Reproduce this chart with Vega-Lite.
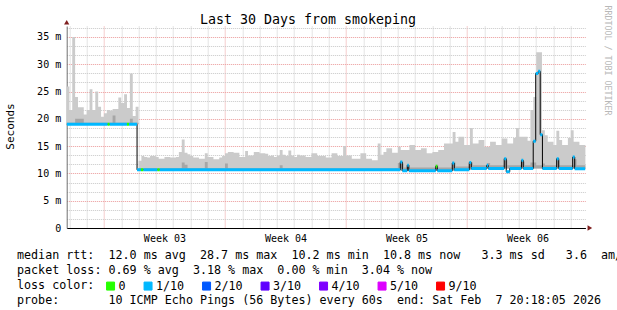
{
  "$schema": "https://vega.github.io/schema/vega-lite/v6.json",
  "width": 518.7,
  "height": 202,
  "autosize": {"type": "none"},
  "padding": {"left": 66.7, "top": 26, "right": 31.6, "bottom": 82},
  "background": "#ffffff",
  "config": {"view": {"stroke": null}},
  "title": {"text": "Last 30 Days from smokeping", "font": "DejaVu Sans Mono", "fontSize": 13.3, "fontWeight": "normal", "color": "#000000", "anchor": "middle", "frame": "group", "dx": -18, "dy": 34, "offset": 2, "baseline": "alphabetic"},
  "datasets": {
    "smoke": [
      {"t":"2026-01-08T20:00Z","lo":19,"dk":19.3,"hi":25.9},
      {"t":"2026-01-09T00:00Z","lo":19,"dk":19.3,"hi":21.6},
      {"t":"2026-01-09T04:00Z","lo":19,"dk":19.3,"hi":35.0},
      {"t":"2026-01-09T08:00Z","lo":19,"dk":20.0,"hi":24.0},
      {"t":"2026-01-09T12:00Z","lo":19,"dk":20.0,"hi":22.1},
      {"t":"2026-01-09T16:00Z","lo":19,"dk":20.0,"hi":22.1},
      {"t":"2026-01-09T20:00Z","lo":19,"dk":19.3,"hi":20.8},
      {"t":"2026-01-10T00:00Z","lo":19,"dk":19.3,"hi":21.6},
      {"t":"2026-01-10T04:00Z","lo":19,"dk":19.3,"hi":25.4},
      {"t":"2026-01-10T08:00Z","lo":19,"dk":19.3,"hi":21.6},
      {"t":"2026-01-10T12:00Z","lo":19,"dk":19.3,"hi":25.0},
      {"t":"2026-01-10T16:00Z","lo":19,"dk":19.3,"hi":22.2},
      {"t":"2026-01-10T20:00Z","lo":19,"dk":19.3,"hi":20.4},
      {"t":"2026-01-11T00:00Z","lo":19,"dk":19.3,"hi":21.0},
      {"t":"2026-01-11T04:00Z","lo":19,"dk":19.3,"hi":21.6},
      {"t":"2026-01-11T08:00Z","lo":19,"dk":19.3,"hi":21.5},
      {"t":"2026-01-11T12:00Z","lo":19,"dk":20.6,"hi":21.8},
      {"t":"2026-01-11T16:00Z","lo":19,"dk":19.3,"hi":21.8},
      {"t":"2026-01-11T20:00Z","lo":19,"dk":19.3,"hi":23.9},
      {"t":"2026-01-12T00:00Z","lo":19,"dk":19.3,"hi":22.9},
      {"t":"2026-01-12T04:00Z","lo":19,"dk":19.3,"hi":24.5},
      {"t":"2026-01-12T08:00Z","lo":19,"dk":19.3,"hi":22.0},
      {"t":"2026-01-12T12:00Z","lo":19,"dk":20.0,"hi":28.3},
      {"t":"2026-01-12T16:00Z","lo":19,"dk":19.3,"hi":20.5},
      {"t":"2026-01-12T20:00Z","lo":19,"dk":19.3,"hi":22.2},
      {"t":"2026-01-13T00:00Z","lo":10.65,"dk":10.95,"hi":12.3},
      {"t":"2026-01-13T04:00Z","lo":10.65,"dk":10.95,"hi":13.2},
      {"t":"2026-01-13T08:00Z","lo":10.65,"dk":10.95,"hi":13.0},
      {"t":"2026-01-13T12:00Z","lo":10.65,"dk":10.95,"hi":12.9},
      {"t":"2026-01-13T16:00Z","lo":10.65,"dk":10.95,"hi":13.2},
      {"t":"2026-01-13T20:00Z","lo":10.65,"dk":10.95,"hi":13.2},
      {"t":"2026-01-14T00:00Z","lo":10.65,"dk":10.95,"hi":13.0},
      {"t":"2026-01-14T04:00Z","lo":10.65,"dk":10.95,"hi":12.7},
      {"t":"2026-01-14T08:00Z","lo":10.65,"dk":10.95,"hi":12.7},
      {"t":"2026-01-14T12:00Z","lo":10.65,"dk":10.95,"hi":13.0},
      {"t":"2026-01-14T16:00Z","lo":10.65,"dk":10.95,"hi":13.0},
      {"t":"2026-01-14T20:00Z","lo":10.65,"dk":10.95,"hi":12.9},
      {"t":"2026-01-15T00:00Z","lo":10.65,"dk":10.95,"hi":12.9},
      {"t":"2026-01-15T04:00Z","lo":10.65,"dk":10.95,"hi":13.0},
      {"t":"2026-01-15T08:00Z","lo":10.65,"dk":10.95,"hi":13.9},
      {"t":"2026-01-15T12:00Z","lo":10.65,"dk":12.0,"hi":16.2},
      {"t":"2026-01-15T16:00Z","lo":10.65,"dk":11.6,"hi":13.8},
      {"t":"2026-01-15T20:00Z","lo":10.65,"dk":10.95,"hi":13.5},
      {"t":"2026-01-16T00:00Z","lo":10.65,"dk":10.95,"hi":13.2},
      {"t":"2026-01-16T04:00Z","lo":10.65,"dk":10.95,"hi":12.9},
      {"t":"2026-01-16T08:00Z","lo":10.65,"dk":10.95,"hi":12.9},
      {"t":"2026-01-16T12:00Z","lo":10.65,"dk":10.95,"hi":12.7},
      {"t":"2026-01-16T16:00Z","lo":10.65,"dk":10.95,"hi":12.7},
      {"t":"2026-01-16T20:00Z","lo":10.65,"dk":12.1,"hi":13.7},
      {"t":"2026-01-17T00:00Z","lo":10.65,"dk":10.95,"hi":13.0},
      {"t":"2026-01-17T04:00Z","lo":10.65,"dk":10.95,"hi":13.0},
      {"t":"2026-01-17T08:00Z","lo":10.65,"dk":10.95,"hi":12.6},
      {"t":"2026-01-17T12:00Z","lo":10.65,"dk":10.95,"hi":12.6},
      {"t":"2026-01-17T16:00Z","lo":10.65,"dk":10.95,"hi":12.9},
      {"t":"2026-01-17T20:00Z","lo":10.65,"dk":10.95,"hi":13.2},
      {"t":"2026-01-18T00:00Z","lo":10.65,"dk":11.8,"hi":13.7},
      {"t":"2026-01-18T04:00Z","lo":10.65,"dk":10.95,"hi":13.9},
      {"t":"2026-01-18T08:00Z","lo":10.65,"dk":10.95,"hi":13.9},
      {"t":"2026-01-18T12:00Z","lo":10.65,"dk":10.95,"hi":13.8},
      {"t":"2026-01-18T16:00Z","lo":10.65,"dk":10.95,"hi":13.8},
      {"t":"2026-01-18T20:00Z","lo":10.65,"dk":10.95,"hi":13.0},
      {"t":"2026-01-19T00:00Z","lo":10.65,"dk":10.95,"hi":13.0},
      {"t":"2026-01-19T04:00Z","lo":10.65,"dk":10.95,"hi":14.1},
      {"t":"2026-01-19T08:00Z","lo":10.65,"dk":10.95,"hi":13.3},
      {"t":"2026-01-19T12:00Z","lo":10.65,"dk":10.95,"hi":13.3},
      {"t":"2026-01-19T16:00Z","lo":10.65,"dk":10.95,"hi":13.9},
      {"t":"2026-01-19T20:00Z","lo":10.65,"dk":10.95,"hi":13.9},
      {"t":"2026-01-20T00:00Z","lo":10.65,"dk":10.95,"hi":13.7},
      {"t":"2026-01-20T04:00Z","lo":10.65,"dk":10.95,"hi":13.7},
      {"t":"2026-01-20T08:00Z","lo":10.65,"dk":10.95,"hi":13.6},
      {"t":"2026-01-20T12:00Z","lo":10.65,"dk":10.95,"hi":13.2},
      {"t":"2026-01-20T16:00Z","lo":10.65,"dk":10.95,"hi":13.3},
      {"t":"2026-01-20T20:00Z","lo":10.65,"dk":10.95,"hi":13.0},
      {"t":"2026-01-21T00:00Z","lo":10.65,"dk":10.95,"hi":13.3},
      {"t":"2026-01-21T04:00Z","lo":10.65,"dk":11.5,"hi":14.3},
      {"t":"2026-01-21T08:00Z","lo":10.65,"dk":10.95,"hi":13.4},
      {"t":"2026-01-21T12:00Z","lo":10.65,"dk":10.95,"hi":13.2},
      {"t":"2026-01-21T16:00Z","lo":10.65,"dk":10.95,"hi":14.2},
      {"t":"2026-01-21T20:00Z","lo":10.65,"dk":10.95,"hi":13.3},
      {"t":"2026-01-22T00:00Z","lo":10.65,"dk":10.95,"hi":13.0},
      {"t":"2026-01-22T04:00Z","lo":10.65,"dk":10.95,"hi":13.4},
      {"t":"2026-01-22T08:00Z","lo":10.65,"dk":10.95,"hi":13.3},
      {"t":"2026-01-22T12:00Z","lo":10.65,"dk":10.95,"hi":13.3},
      {"t":"2026-01-22T16:00Z","lo":10.65,"dk":10.95,"hi":13.0},
      {"t":"2026-01-22T20:00Z","lo":10.65,"dk":10.95,"hi":13.0},
      {"t":"2026-01-23T00:00Z","lo":10.65,"dk":10.95,"hi":13.7},
      {"t":"2026-01-23T04:00Z","lo":10.65,"dk":10.95,"hi":13.7},
      {"t":"2026-01-23T08:00Z","lo":10.65,"dk":10.95,"hi":13.2},
      {"t":"2026-01-23T12:00Z","lo":10.65,"dk":10.95,"hi":13.2},
      {"t":"2026-01-23T16:00Z","lo":10.65,"dk":10.95,"hi":13.2},
      {"t":"2026-01-23T20:00Z","lo":10.65,"dk":10.95,"hi":12.9},
      {"t":"2026-01-24T00:00Z","lo":10.65,"dk":10.95,"hi":12.9},
      {"t":"2026-01-24T04:00Z","lo":10.65,"dk":10.95,"hi":13.7},
      {"t":"2026-01-24T08:00Z","lo":10.65,"dk":10.95,"hi":13.7},
      {"t":"2026-01-24T12:00Z","lo":10.65,"dk":10.95,"hi":13.2},
      {"t":"2026-01-24T16:00Z","lo":10.65,"dk":10.95,"hi":13.2},
      {"t":"2026-01-24T20:00Z","lo":10.65,"dk":10.95,"hi":15.0},
      {"t":"2026-01-25T00:00Z","lo":10.65,"dk":10.95,"hi":13.3},
      {"t":"2026-01-25T04:00Z","lo":10.65,"dk":10.95,"hi":13.3},
      {"t":"2026-01-25T08:00Z","lo":10.65,"dk":10.95,"hi":12.7},
      {"t":"2026-01-25T12:00Z","lo":10.65,"dk":10.95,"hi":12.7},
      {"t":"2026-01-25T16:00Z","lo":10.65,"dk":10.95,"hi":12.7},
      {"t":"2026-01-25T20:00Z","lo":10.65,"dk":10.95,"hi":13.7},
      {"t":"2026-01-26T00:00Z","lo":10.65,"dk":10.95,"hi":13.7},
      {"t":"2026-01-26T04:00Z","lo":10.65,"dk":10.95,"hi":12.7},
      {"t":"2026-01-26T08:00Z","lo":10.65,"dk":10.95,"hi":12.7},
      {"t":"2026-01-26T12:00Z","lo":10.65,"dk":10.95,"hi":12.4},
      {"t":"2026-01-26T16:00Z","lo":10.65,"dk":10.95,"hi":12.4},
      {"t":"2026-01-26T20:00Z","lo":10.65,"dk":10.95,"hi":15.5},
      {"t":"2026-01-27T00:00Z","lo":10.65,"dk":10.95,"hi":13.4},
      {"t":"2026-01-27T04:00Z","lo":10.65,"dk":10.95,"hi":13.9},
      {"t":"2026-01-27T08:00Z","lo":10.65,"dk":10.95,"hi":14.6},
      {"t":"2026-01-27T12:00Z","lo":10.65,"dk":10.95,"hi":14.6},
      {"t":"2026-01-27T16:00Z","lo":10.65,"dk":10.95,"hi":13.8},
      {"t":"2026-01-27T20:00Z","lo":10.65,"dk":11.0,"hi":13.8},
      {"t":"2026-01-28T00:00Z","lo":10.65,"dk":11.9,"hi":14.9},
      {"t":"2026-01-28T04:00Z","lo":10.5,"dk":11.8,"hi":14.3},
      {"t":"2026-01-28T08:00Z","lo":10.5,"dk":11.1,"hi":14.3},
      {"t":"2026-01-28T12:00Z","lo":10.5,"dk":11.6,"hi":14.3},
      {"t":"2026-01-28T16:00Z","lo":10.5,"dk":11.1,"hi":15.2},
      {"t":"2026-01-28T20:00Z","lo":10.5,"dk":11.1,"hi":15.2},
      {"t":"2026-01-29T00:00Z","lo":10.5,"dk":11.1,"hi":14.3},
      {"t":"2026-01-29T04:00Z","lo":10.5,"dk":11.1,"hi":14.3},
      {"t":"2026-01-29T08:00Z","lo":10.5,"dk":11.1,"hi":14.6},
      {"t":"2026-01-29T12:00Z","lo":10.5,"dk":11.1,"hi":14.6},
      {"t":"2026-01-29T16:00Z","lo":10.5,"dk":11.1,"hi":13.7},
      {"t":"2026-01-29T20:00Z","lo":10.5,"dk":11.1,"hi":13.7},
      {"t":"2026-01-30T00:00Z","lo":10.5,"dk":11.1,"hi":13.9},
      {"t":"2026-01-30T04:00Z","lo":10.5,"dk":11.6,"hi":13.9},
      {"t":"2026-01-30T08:00Z","lo":10.5,"dk":11.1,"hi":14.3},
      {"t":"2026-01-30T12:00Z","lo":10.5,"dk":11.1,"hi":14.3},
      {"t":"2026-01-30T16:00Z","lo":10.5,"dk":11.1,"hi":15.5},
      {"t":"2026-01-30T20:00Z","lo":10.5,"dk":11.1,"hi":15.5},
      {"t":"2026-01-31T00:00Z","lo":10.5,"dk":11.1,"hi":15.5},
      {"t":"2026-01-31T04:00Z","lo":10.5,"dk":12.0,"hi":17.6},
      {"t":"2026-01-31T08:00Z","lo":10.65,"dk":11.25,"hi":15.8},
      {"t":"2026-01-31T12:00Z","lo":10.65,"dk":11.25,"hi":16.7},
      {"t":"2026-01-31T16:00Z","lo":10.65,"dk":11.25,"hi":16.7},
      {"t":"2026-01-31T20:00Z","lo":10.65,"dk":11.25,"hi":15.2},
      {"t":"2026-02-01T00:00Z","lo":10.65,"dk":11.25,"hi":15.2},
      {"t":"2026-02-01T04:00Z","lo":10.65,"dk":12.0,"hi":18.3},
      {"t":"2026-02-01T08:00Z","lo":10.9,"dk":11.5,"hi":15.5},
      {"t":"2026-02-01T12:00Z","lo":10.9,"dk":11.5,"hi":15.5},
      {"t":"2026-02-01T16:00Z","lo":10.9,"dk":11.5,"hi":16.1},
      {"t":"2026-02-01T20:00Z","lo":10.9,"dk":11.5,"hi":16.1},
      {"t":"2026-02-02T00:00Z","lo":10.9,"dk":11.5,"hi":14.9},
      {"t":"2026-02-02T04:00Z","lo":10.9,"dk":11.9,"hi":14.9},
      {"t":"2026-02-02T08:00Z","lo":10.9,"dk":11.5,"hi":15.8},
      {"t":"2026-02-02T12:00Z","lo":10.9,"dk":11.5,"hi":15.8},
      {"t":"2026-02-02T16:00Z","lo":10.9,"dk":11.5,"hi":15.2},
      {"t":"2026-02-02T20:00Z","lo":10.9,"dk":11.5,"hi":15.2},
      {"t":"2026-02-03T00:00Z","lo":10.9,"dk":11.5,"hi":16.4},
      {"t":"2026-02-03T04:00Z","lo":10.9,"dk":12.4,"hi":16.4},
      {"t":"2026-02-03T08:00Z","lo":10.9,"dk":11.5,"hi":15.5},
      {"t":"2026-02-03T12:00Z","lo":10.9,"dk":11.5,"hi":15.5},
      {"t":"2026-02-03T16:00Z","lo":10.9,"dk":11.5,"hi":16.5},
      {"t":"2026-02-03T20:00Z","lo":10.9,"dk":11.5,"hi":18.3},
      {"t":"2026-02-04T00:00Z","lo":10.9,"dk":11.5,"hi":16.7},
      {"t":"2026-02-04T04:00Z","lo":10.9,"dk":12.2,"hi":16.7},
      {"t":"2026-02-04T08:00Z","lo":10.9,"dk":11.5,"hi":16.7},
      {"t":"2026-02-04T12:00Z","lo":10.9,"dk":11.5,"hi":16.0},
      {"t":"2026-02-04T16:00Z","lo":10.9,"dk":12.0,"hi":21.6},
      {"t":"2026-02-04T20:00Z","lo":10.9,"dk":12.0,"hi":24.0},
      {"t":"2026-02-05T00:00Z","lo":10.9,"dk":11.5,"hi":32.2},
      {"t":"2026-02-05T04:00Z","lo":10.9,"dk":11.5,"hi":32.2},
      {"t":"2026-02-05T08:00Z","lo":10.9,"dk":11.8,"hi":17.9},
      {"t":"2026-02-05T12:00Z","lo":10.9,"dk":11.5,"hi":17.0},
      {"t":"2026-02-05T16:00Z","lo":10.9,"dk":11.5,"hi":15.8},
      {"t":"2026-02-05T20:00Z","lo":10.9,"dk":11.5,"hi":15.8},
      {"t":"2026-02-06T00:00Z","lo":10.9,"dk":11.5,"hi":15.2},
      {"t":"2026-02-06T04:00Z","lo":10.9,"dk":12.4,"hi":17.8},
      {"t":"2026-02-06T08:00Z","lo":10.9,"dk":11.5,"hi":16.1},
      {"t":"2026-02-06T12:00Z","lo":10.9,"dk":11.5,"hi":15.2},
      {"t":"2026-02-06T16:00Z","lo":10.9,"dk":11.5,"hi":15.2},
      {"t":"2026-02-06T20:00Z","lo":10.9,"dk":11.5,"hi":16.5},
      {"t":"2026-02-07T00:00Z","lo":10.9,"dk":11.5,"hi":17.9},
      {"t":"2026-02-07T04:00Z","lo":10.9,"dk":12.6,"hi":15.8},
      {"t":"2026-02-07T08:00Z","lo":10.9,"dk":11.5,"hi":15.8},
      {"t":"2026-02-07T12:00Z","lo":10.9,"dk":11.5,"hi":15.2},
      {"t":"2026-02-07T16:00Z","lo":10.9,"dk":11.5,"hi":15.2},
      {"t":"2026-02-07T20:00Z","lo":10.9,"dk":11.5,"hi":15.2},
      {"t":"2026-02-08T00:00Z","lo":10.9,"dk":11.5,"hi":15.2}
    ],
    "med": [
      {"t0":"2026-01-08T20:00Z","t1":"2026-01-11T05:11Z","m":19.0,"loss":"1/10"},
      {"t0":"2026-01-11T05:11Z","t1":"2026-01-11T07:57Z","m":19.0,"loss":"0"},
      {"t0":"2026-01-11T07:57Z","t1":"2026-01-12T07:57Z","m":19.0,"loss":"1/10"},
      {"t0":"2026-01-12T07:57Z","t1":"2026-01-12T10:44Z","m":19.0,"loss":"0"},
      {"t0":"2026-01-12T10:44Z","t1":"2026-01-12T21:58Z","m":19.0,"loss":"1/10"},
      {"t0":"2026-01-12T21:58Z","t1":"2026-01-13T03:22Z","m":10.65,"loss":"1/10"},
      {"t0":"2026-01-13T03:22Z","t1":"2026-01-13T06:50Z","m":10.65,"loss":"0"},
      {"t0":"2026-01-13T06:50Z","t1":"2026-01-14T02:16Z","m":10.65,"loss":"1/10"},
      {"t0":"2026-01-14T02:16Z","t1":"2026-01-14T05:28Z","m":10.65,"loss":"0"},
      {"t0":"2026-01-14T05:28Z","t1":"2026-01-28T03:22Z","m":10.65,"loss":"1/10"},
      {"t0":"2026-01-28T03:22Z","t1":"2026-01-28T06:09Z","m":12.1,"loss":"1/10"},
      {"t0":"2026-01-28T06:09Z","t1":"2026-01-28T13:05Z","m":10.5,"loss":"1/10"},
      {"t0":"2026-01-28T13:05Z","t1":"2026-01-28T15:10Z","m":11.5,"loss":"1/10"},
      {"t0":"2026-01-28T15:10Z","t1":"2026-01-30T04:37Z","m":10.5,"loss":"1/10"},
      {"t0":"2026-01-30T04:37Z","t1":"2026-01-30T06:42Z","m":11.3,"loss":"0"},
      {"t0":"2026-01-30T06:42Z","t1":"2026-01-31T03:31Z","m":10.5,"loss":"1/10"},
      {"t0":"2026-01-31T03:31Z","t1":"2026-01-31T06:17Z","m":11.9,"loss":"1/10"},
      {"t0":"2026-01-31T06:17Z","t1":"2026-02-01T03:06Z","m":10.65,"loss":"1/10"},
      {"t0":"2026-02-01T03:06Z","t1":"2026-02-01T05:52Z","m":12.0,"loss":"1/10"},
      {"t0":"2026-02-01T05:52Z","t1":"2026-02-02T03:22Z","m":10.9,"loss":"1/10"},
      {"t0":"2026-02-02T03:22Z","t1":"2026-02-02T05:28Z","m":11.5,"loss":"1/10"},
      {"t0":"2026-02-02T05:28Z","t1":"2026-02-03T03:39Z","m":10.9,"loss":"1/10"},
      {"t0":"2026-02-03T03:39Z","t1":"2026-02-03T06:26Z","m":12.7,"loss":"1/10"},
      {"t0":"2026-02-03T06:26Z","t1":"2026-02-03T11:17Z","m":10.3,"loss":"1/10"},
      {"t0":"2026-02-03T11:17Z","t1":"2026-02-04T03:31Z","m":10.9,"loss":"1/10"},
      {"t0":"2026-02-04T03:31Z","t1":"2026-02-04T06:01Z","m":12.4,"loss":"1/10"},
      {"t0":"2026-02-04T06:01Z","t1":"2026-02-04T19:53Z","m":10.9,"loss":"1/10"},
      {"t0":"2026-02-04T19:53Z","t1":"2026-02-04T23:21Z","m":15.9,"loss":"1/10"},
      {"t0":"2026-02-04T23:21Z","t1":"2026-02-05T02:49Z","m":28.3,"loss":"1/10"},
      {"t0":"2026-02-05T02:49Z","t1":"2026-02-05T05:35Z","m":28.7,"loss":"1/10"},
      {"t0":"2026-02-05T05:35Z","t1":"2026-02-05T08:39Z","m":17.1,"loss":"1/10"},
      {"t0":"2026-02-05T08:39Z","t1":"2026-02-06T04:29Z","m":10.9,"loss":"1/10"},
      {"t0":"2026-02-06T04:29Z","t1":"2026-02-06T07:16Z","m":12.7,"loss":"1/10"},
      {"t0":"2026-02-06T07:16Z","t1":"2026-02-07T02:41Z","m":10.9,"loss":"1/10"},
      {"t0":"2026-02-07T02:41Z","t1":"2026-02-07T05:28Z","m":13.0,"loss":"1/10"},
      {"t0":"2026-02-07T05:28Z","t1":"2026-02-07T20:19Z","m":10.85,"loss":"1/10"},
      {"t0":"2026-02-07T20:19Z","t1":"2026-02-07T20:19Z","m":10.85,"loss":"1/10"}
    ],
    "arrows": [
      {"t":"2026-02-08T02:30Z","v":0,"s":"triangle-right"},
      {"t":"2026-01-08T20:18Z","v":37.7,"s":"triangle-up"}
    ]
  },
  "resolve": {"axis": {"x": "independent", "y": "independent"}},
  "layer": [
    {
      "data": {"name": "smoke"},
      "mark": {"type": "area", "interpolate": "step-after", "color": "#cbcbcb", "clip": true},
      "encoding": {
        "x": {
          "field": "t", "type": "temporal",
          "scale": {"type": "utc", "domain": [1767903485000, 1770495485000], "nice": false},
          "axis": {
            "orient": "bottom",
            "tickCount": {"interval": "day", "step": 1},
            "labels": false, "ticks": false, "domain": false, "title": null,
            "grid": true,
            "gridColor": {"condition": {"test": "day(datum.value) == 0", "value": "#eb9a9a"}, "value": "#c8c8c8"},
            "gridDash": [1, 1]
          }
        },
        "y": {
          "field": "lo", "type": "quantitative",
          "scale": {"domain": [0, 37], "nice": false, "zero": false},
          "axis": {
            "orient": "left",
            "values": [0,1.6667,3.3333,5,6.6667,8.3333,10,11.6667,13.3333,15,16.6667,18.3333,20,21.6667,23.3333,25,26.6667,28.3333,30,31.6667,33.3333,35,36.6667],
            "labelExpr": "abs(datum.value - 5 * round(datum.value / 5)) < 0.01 ? (datum.value < 0.01 ? '0\u00a0' : datum.value + ' m') : ''",
            "labelOverlap": false, "labelFlush": false,
            "labelFont": "DejaVu Sans Mono", "labelFontSize": 10, "labelColor": "#000000", "labelPadding": 6,
            "ticks": false, "tickSize": 0,
            "domain": true, "domainColor": "#707070", "domainWidth": 1,
            "grid": true,
            "gridColor": {"condition": {"test": "abs(datum.value - 5 * round(datum.value / 5)) < 0.01", "value": "#eb9a9a"}, "value": "#c8c8c8"},
            "gridDash": [1, 1],
            "title": "Seconds", "titleFont": "DejaVu Sans Mono", "titleFontSize": 11, "titleFontWeight": "normal", "titleColor": "#000000",
            "titleX": -55.7, "titleY": 100, "titleAngle": -90, "titleAlign": "center", "titleBaseline": "middle"
          }
        },
        "y2": {"field": "hi"}
      }
    },
    {
      "data": {"name": "smoke"},
      "mark": {"type": "area", "interpolate": "step-after", "color": "#a6a6a6", "clip": true},
      "encoding": {
        "x": {
          "field": "t", "type": "temporal",
          "axis": {
            "orient": "bottom",
            "tickCount": {"interval": "week", "step": 1},
            "labelExpr": "'Week ' + timeFormat(time(datum.value) + 259200000, '%V')",
            "labelOverlap": false, "labelFlush": false, "labelAlign": "center", "labelOffset": 60.5,
            "labelFont": "DejaVu Sans Mono", "labelFontSize": 10, "labelColor": "#000000", "labelPadding": 5,
            "ticks": false, "tickSize": 0, "grid": false, "title": null,
            "domain": true, "domainColor": "#000000", "domainWidth": 1
          }
        },
        "y": {"field": "lo", "type": "quantitative", "axis": null},
        "y2": {"field": "dk"}
      }
    },
    {
      "data": {"name": "med"},
      "mark": {"type": "line", "interpolate": "step-after", "color": "#000000", "strokeWidth": 1, "clip": true},
      "encoding": {
        "x": {
          "field": "t0", "type": "temporal",
          "axis": {
            "orient": "bottom", "labels": false, "ticks": false, "domain": false, "grid": false,
            "title": [
              "median rtt:\u00a0\u00a012.0\u00a0ms\u00a0avg\u00a0\u00a028.7\u00a0ms\u00a0max\u00a0\u00a010.2\u00a0ms\u00a0min\u00a0\u00a010.8\u00a0ms\u00a0now\u00a0\u00a0\u00a03.3\u00a0ms\u00a0sd\u00a0\u00a0\u00a03.6\u00a0\u00a0am/as",
              "packet\u00a0loss:\u00a00.69\u00a0%\u00a0avg\u00a0\u00a03.18\u00a0%\u00a0max\u00a0\u00a00.00\u00a0%\u00a0min\u00a0\u00a03.04\u00a0%\u00a0now",
              "loss\u00a0color:",
              "probe:\u00a0\u00a0\u00a0\u00a0\u00a0\u00a0\u00a010\u00a0ICMP\u00a0Echo\u00a0Pings\u00a0(56\u00a0Bytes)\u00a0every\u00a060s\u00a0\u00a0end:\u00a0Sat\u00a0Feb\u00a0\u00a07\u00a020:18:05\u00a02026"
            ],
            "titleX": -50.2, "titleY": 30.5, "titleAlign": "left", "titleBaseline": "alphabetic",
            "titleFont": "DejaVu Sans Mono", "titleFontSize": 11.7, "titleFontWeight": "normal", "titleColor": "#000000",
            "titleLineHeight": 15
          }
        },
        "y": {"field": "m", "type": "quantitative", "axis": null}
      }
    },
    {
      "data": {"name": "med"},
      "mark": {"type": "rule", "strokeWidth": 3, "strokeCap": "butt", "clip": true},
      "encoding": {
        "x": {"field": "t0", "type": "temporal", "axis": null},
        "x2": {"field": "t1"},
        "y": {"field": "m", "type": "quantitative", "axis": null},
        "color": {
          "field": "loss", "type": "nominal",
          "scale": {"domain": ["0", "1/10", "2/10", "3/10", "4/10", "5/10", "9/10"], "range": ["#26ff00", "#00b8ff", "#0059ff", "#5e00ff", "#7e00ff", "#dd00ff", "#ff0000"]},
          "legend": {
            "orient": "none", "legendX": 38, "legendY": 254, "direction": "horizontal", "title": null,
            "symbolType": "square", "symbolSize": 64, "symbolStrokeWidth": 1, "symbolStrokeColor": "#000000",
            "labelFont": "DejaVu Sans Mono", "labelFontSize": 11.7, "labelColor": "#000000", "labelOffset": 2,
            "columnPadding": 15.5, "padding": 0,
            "encode": {"symbols": {"update": {"fill": {"scale": "color", "field": "value"}, "stroke": {"value": "#000000"}, "strokeWidth": {"value": 1}, "opacity": {"value": 1}}}}
          }
        }
      }
    },
    {
      "data": {"name": "arrows"},
      "mark": {"type": "point", "filled": true, "size": 28, "color": "#7f1f1f", "opacity": 1, "clip": false},
      "encoding": {
        "x": {"field": "t", "type": "temporal", "axis": null},
        "y": {
          "field": "v", "type": "quantitative",
          "axis": {
            "orient": "right", "title": "RRDTOOL / TOBI OETIKER", "labels": false, "ticks": false, "domain": false, "grid": false,
            "titleAngle": 90, "titleX": 20.6, "titleY": -21, "titleAlign": "left", "titleBaseline": "middle",
            "titleColor": "#b8b8b8", "titleFont": "DejaVu Sans Mono", "titleFontSize": 8.3, "titleFontWeight": "normal"
          }
        },
        "shape": {"field": "s", "type": "nominal", "scale": null, "legend": null}
      }
    }
  ]
}
